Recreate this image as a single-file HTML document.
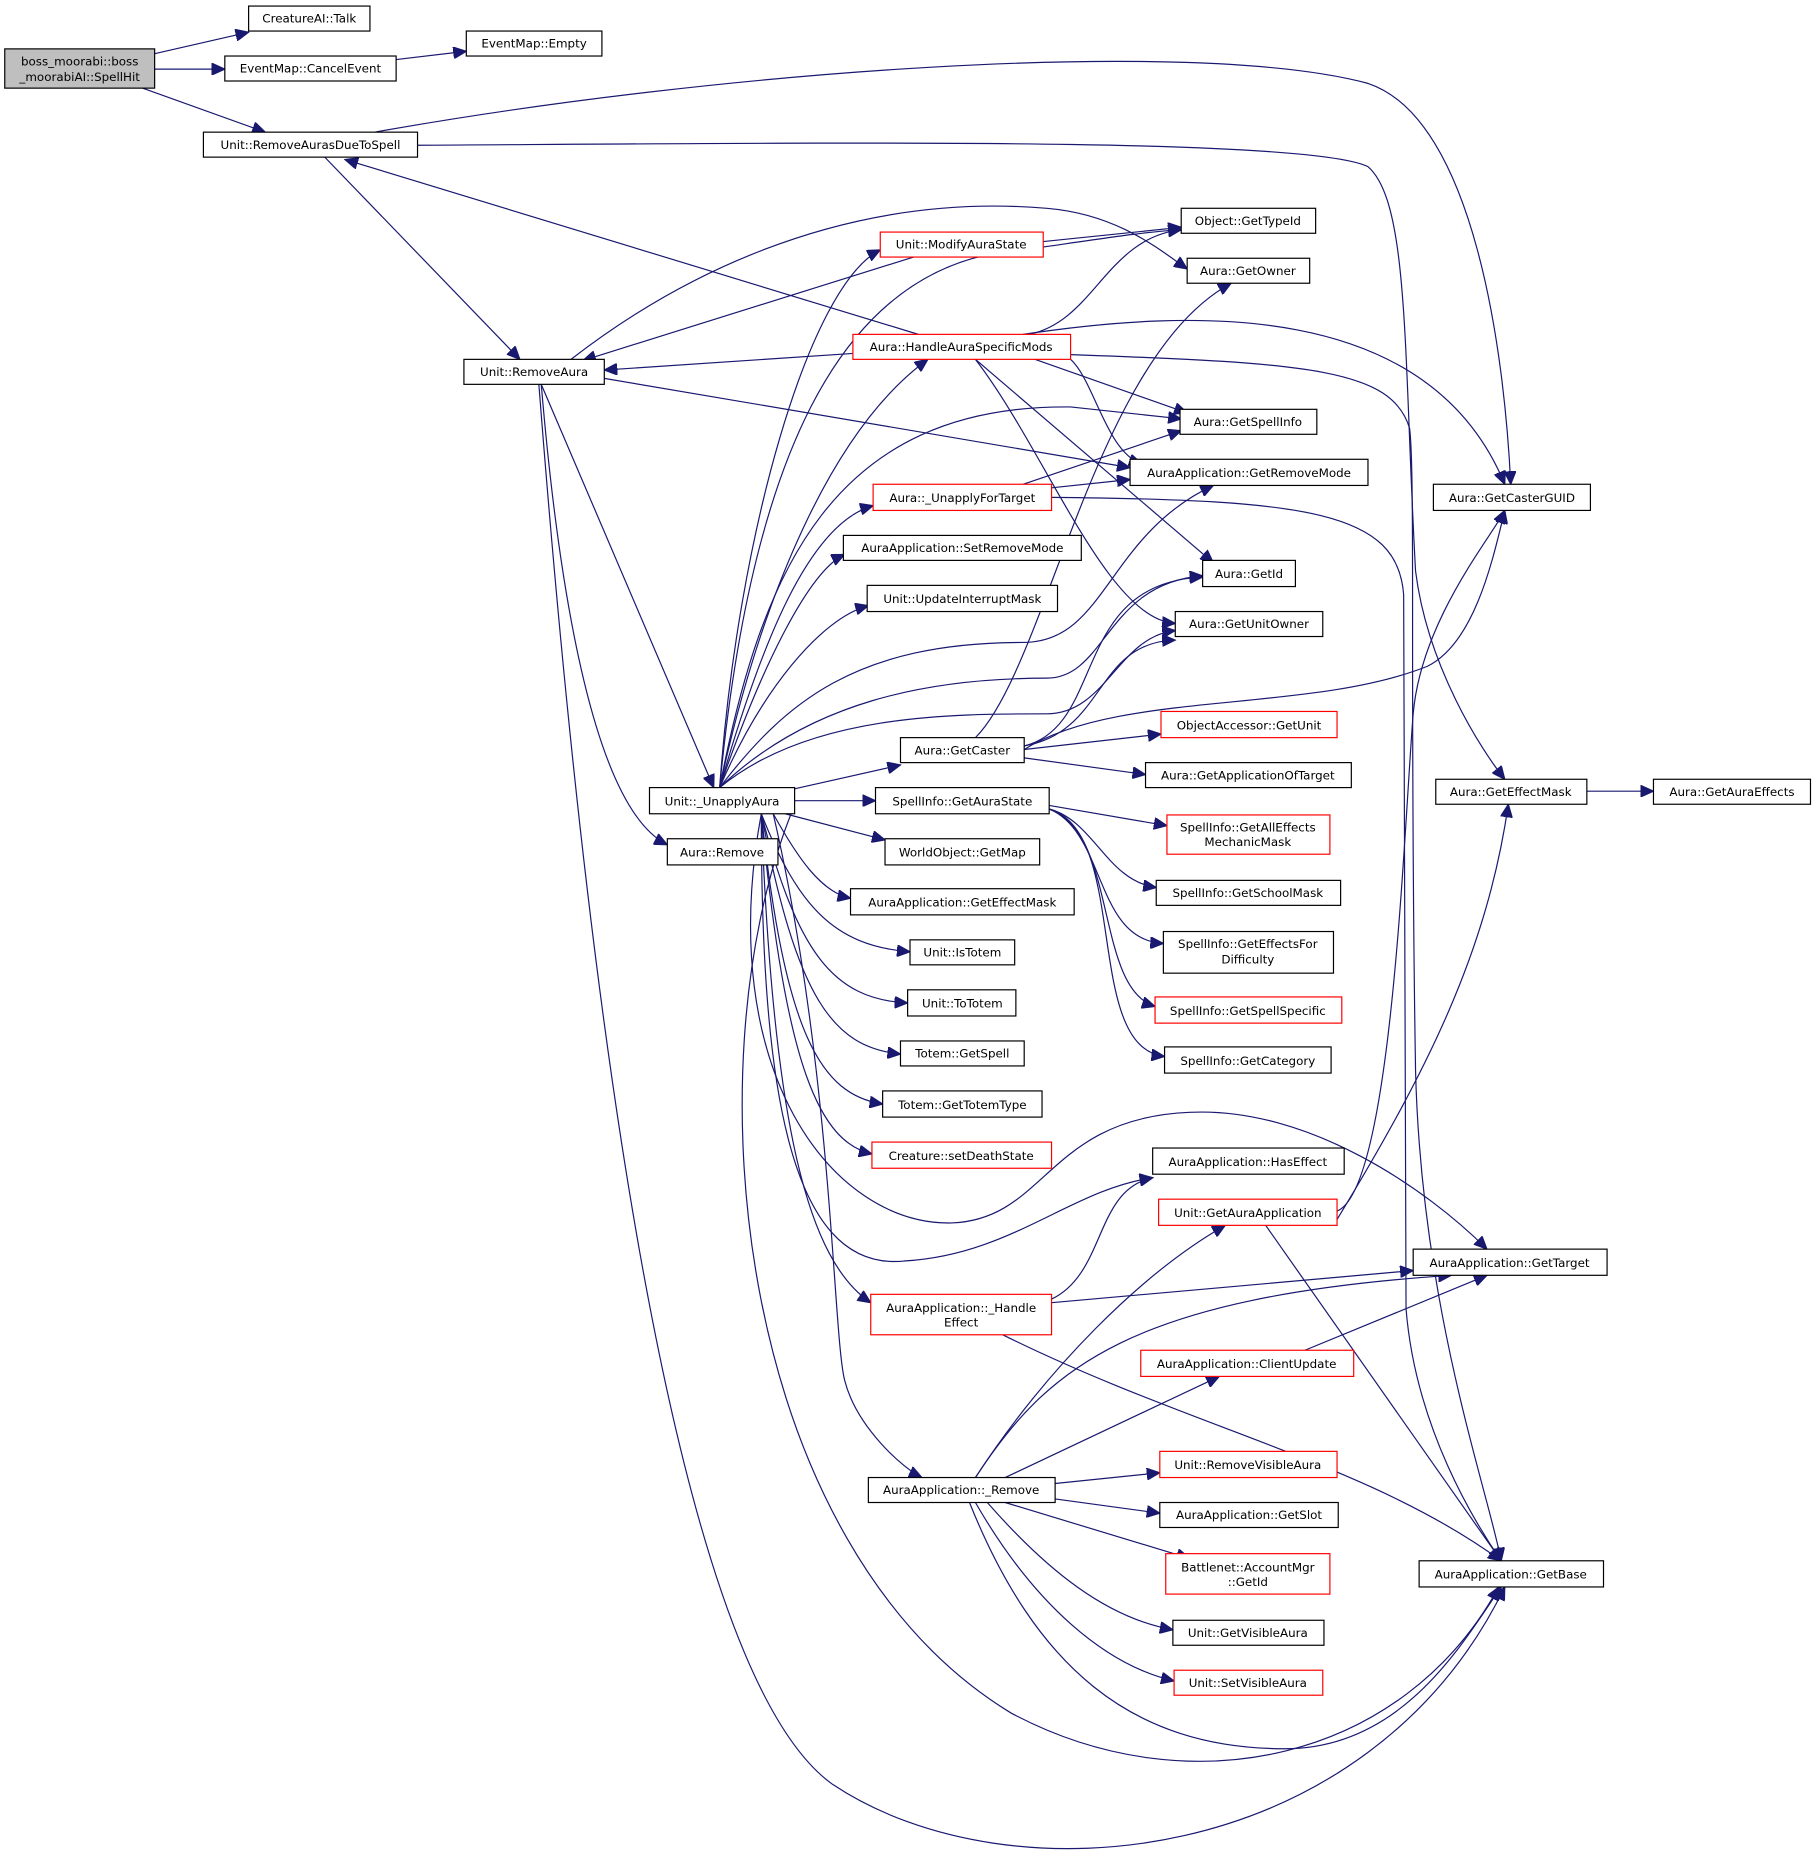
<!DOCTYPE html>
<html><head><meta charset="utf-8"><style>
html,body{margin:0;padding:0;background:#fff;}
svg{display:block}
text{font-family:"DejaVu Sans","Liberation Sans",sans-serif;font-size:10px;fill:#000;text-anchor:middle}
.n{fill:#fff;stroke:#000;stroke-width:1}
.r{fill:#fff;stroke:#f00;stroke-width:1}
.e{fill:none;stroke:#191970;stroke-width:1}
</style></head><body>
<svg width="1820" height="1869" viewBox="0 0 1530 1571" xmlns="http://www.w3.org/2000/svg">
<defs><marker id="a" markerUnits="userSpaceOnUse" markerWidth="12" markerHeight="10" refX="11" refY="5" orient="auto"><path d="M0,0 L11,5 L0,10 z" fill="#191970" stroke="#191970"/></marker></defs>
<g class="e" marker-end="url(#a)">
<path d="M130,45 L209,27"/>
<path d="M130,58 L189,58"/>
<path d="M333,50 L392,43"/>
<path d="M120,74 L223,111"/>
<path d="M315,111 C600,60 1000,30 1150,70 C1240,100 1265,300 1270,407"/>
<path d="M351,122 C700,120 1100,115 1150,140 C1185,170 1180,300 1190,480 C1200,560 1245,630 1265,655"/>
<path d="M273,132 L437,302"/>
<path d="M772,281 L290,134"/>
<path d="M480,302 C560,240 700,160 880,175 C940,180 975,210 998,226"/>
<path d="M768,216 L490,303"/>
<path d="M877,203 L993,191"/>
<path d="M717,297 L508,311"/>
<path d="M865,281 C920,270 930,200 993,193"/>
<path d="M860,281 C1000,260 1200,250 1265,407"/>
<path d="M900,298 C1100,305 1170,310 1185,360 C1190,400 1185,600 1190,900 C1195,1100 1250,1250 1262,1312"/>
<path d="M870,302 L998,347"/>
<path d="M900,302 C920,320 930,380 960,390"/>
<path d="M820,302 L1020,473"/>
<path d="M820,302 C880,380 930,520 988,524"/>
<path d="M455,323 L600,662"/>
<path d="M455,323 C470,500 500,680 561,710"/>
<path d="M508,318 L950,393"/>
<path d="M453,323 C490,800 560,1400 700,1500 C850,1600 1150,1570 1265,1334"/>
<path d="M860,407 L993,362"/>
<path d="M884,410 L950,403"/>
<path d="M884,418 C1100,420 1175,430 1180,500 L1182,1100 C1190,1200 1240,1280 1262,1312"/>
<path d="M605,662 C620,450 680,240 740,210"/>
<path d="M605,662 C630,400 700,220 860,210 C930,200 960,195 993,193"/>
<path d="M605,662 C640,500 700,360 780,302"/>
<path d="M605,662 C640,480 700,340 900,342 L993,352"/>
<path d="M605,662 C640,540 680,440 734,425"/>
<path d="M605,662 C640,560 680,480 710,466"/>
<path d="M605,662 C640,580 690,520 730,509"/>
<path d="M605,662 C660,590 720,540 860,540 C930,540 930,450 1020,408"/>
<path d="M605,662 C680,590 780,570 880,570 C930,570 930,490 1011,484"/>
<path d="M605,662 C680,600 800,600 880,600 C930,600 940,535 988,530"/>
<path d="M668,663 L757,643"/>
<path d="M668,673 L736,673"/>
<path d="M660,684 L744,706"/>
<path d="M650,684 C670,720 690,750 715,755"/>
<path d="M640,684 C670,760 700,795 765,800"/>
<path d="M640,684 C670,800 700,840 763,843"/>
<path d="M640,684 C670,840 700,880 757,886"/>
<path d="M640,684 C660,870 690,920 742,928"/>
<path d="M640,684 C660,900 690,960 733,970"/>
<path d="M640,684 C650,950 680,1060 732,1095"/>
<path d="M650,684 C700,900 700,1120 710,1160 C720,1200 760,1235 775,1242"/>
<path d="M640,684 C640,900 660,1070 760,1060 C850,1055 900,1000 969,990"/>
<path d="M640,684 C600,900 700,1030 800,1028 C880,1025 880,940 1000,935 C1100,930 1200,1000 1250,1050"/>
<path d="M665,684 C580,900 620,1300 850,1440 C1000,1520 1180,1480 1260,1334"/>
<path d="M820,620 C880,560 920,300 1035,238"/>
<path d="M861,627 C930,610 900,490 1011,485"/>
<path d="M861,627 C930,615 920,540 988,538"/>
<path d="M861,630 C940,580 1100,600 1200,560 C1240,540 1255,470 1265,429"/>
<path d="M861,630 L976,617"/>
<path d="M861,637 L963,651"/>
<path d="M882,677 L981,694"/>
<path d="M882,680 C920,690 930,740 972,746"/>
<path d="M882,680 C930,700 920,790 978,793"/>
<path d="M882,680 C940,700 920,830 971,846"/>
<path d="M882,680 C950,700 910,880 979,888"/>
<path d="M1334,665 L1390,665"/>
<path d="M1124,1018 C1170,1000 1180,700 1188,600 C1195,520 1255,450 1265,429"/>
<path d="M1124,1025 C1200,900 1250,800 1268,676"/>
<path d="M1064,1030 L1262,1312"/>
<path d="M884,1092 C930,1070 920,1000 969,990"/>
<path d="M884,1095 L1188,1068"/>
<path d="M843,1122 C1000,1200 1150,1230 1262,1312"/>
<path d="M1097,1135 L1250,1072"/>
<path d="M820,1242 C880,1150 960,1070 1030,1030"/>
<path d="M820,1242 C880,1150 950,1090 1220,1072"/>
<path d="M845,1242 L1025,1157"/>
<path d="M887,1247 L975,1238"/>
<path d="M887,1260 L975,1272"/>
<path d="M845,1263 L1000,1310"/>
<path d="M830,1263 C880,1320 930,1360 986,1370"/>
<path d="M820,1263 C870,1350 930,1400 987,1413"/>
<path d="M815,1263 C870,1400 950,1470 1080,1470 C1180,1470 1230,1380 1262,1334"/>
</g>
<rect x="4" y="41" width="126" height="33" fill="#bfbfbf" stroke="#000"/>
<text x="67" y="55">boss_moorabi::boss</text><text x="67" y="68">_moorabiAI::SpellHit</text>
<g>
<rect class="n" x="209" y="5" width="102" height="21"/><text x="260" y="19">CreatureAI::Talk</text>
<rect class="n" x="189" y="47" width="144" height="21"/><text x="261" y="61">EventMap::CancelEvent</text>
<rect class="n" x="392" y="26" width="114" height="21"/><text x="449" y="40">EventMap::Empty</text>
<rect class="n" x="171" y="111" width="180" height="21"/><text x="261" y="125">Unit::RemoveAurasDueToSpell</text>
<rect class="r" x="740" y="195" width="137" height="21"/><text x="808" y="209">Unit::ModifyAuraState</text>
<rect class="n" x="993" y="175" width="113" height="21"/><text x="1049" y="189">Object::GetTypeId</text>
<rect class="n" x="998" y="217" width="103" height="21"/><text x="1049" y="231">Aura::GetOwner</text>
<rect class="r" x="717" y="281" width="183" height="21"/><text x="808" y="295">Aura::HandleAuraSpecificMods</text>
<rect class="n" x="390" y="302" width="118" height="21"/><text x="449" y="316">Unit::RemoveAura</text>
<rect class="n" x="992" y="344" width="115" height="21"/><text x="1049" y="358">Aura::GetSpellInfo</text>
<rect class="r" x="734" y="407" width="150" height="22"/><text x="809" y="422">Aura::_UnapplyForTarget</text>
<rect class="n" x="950" y="386" width="200" height="22"/><text x="1050" y="401">AuraApplication::GetRemoveMode</text>
<rect class="n" x="1205" y="407" width="132" height="22"/><text x="1271" y="422">Aura::GetCasterGUID</text>
<rect class="n" x="709" y="450" width="200" height="21"/><text x="809" y="464">AuraApplication::SetRemoveMode</text>
<rect class="n" x="729" y="492" width="160" height="22"/><text x="809" y="507">Unit::UpdateInterruptMask</text>
<rect class="n" x="1011" y="471" width="78" height="22"/><text x="1050" y="486">Aura::GetId</text>
<rect class="n" x="988" y="514" width="124" height="21"/><text x="1050" y="528">Aura::GetUnitOwner</text>
<rect class="r" x="976" y="598" width="148" height="22"/><text x="1050" y="613">ObjectAccessor::GetUnit</text>
<rect class="n" x="757" y="620" width="104" height="21"/><text x="809" y="634">Aura::GetCaster</text>
<rect class="n" x="963" y="641" width="173" height="21"/><text x="1049" y="655">Aura::GetApplicationOfTarget</text>
<rect class="n" x="546" y="662" width="122" height="22"/><text x="607" y="677">Unit::_UnapplyAura</text>
<rect class="n" x="736" y="662" width="146" height="22"/><text x="809" y="677">SpellInfo::GetAuraState</text>
<rect class="n" x="1207" y="655" width="127" height="21"/><text x="1270" y="669">Aura::GetEffectMask</text>
<rect class="n" x="1390" y="655" width="132" height="21"/><text x="1456" y="669">Aura::GetAuraEffects</text>
<rect class="r" x="981" y="685" width="137" height="33"/><text x="1049" y="699">SpellInfo::GetAllEffects</text><text x="1049" y="711">MechanicMask</text>
<rect class="n" x="561" y="705" width="93" height="22"/><text x="607" y="720">Aura::Remove</text>
<rect class="n" x="744" y="705" width="130" height="22"/><text x="809" y="720">WorldObject::GetMap</text>
<rect class="n" x="715" y="747" width="188" height="22"/><text x="809" y="762">AuraApplication::GetEffectMask</text>
<rect class="n" x="972" y="740" width="155" height="21"/><text x="1049" y="754">SpellInfo::GetSchoolMask</text>
<rect class="n" x="765" y="790" width="88" height="21"/><text x="809" y="804">Unit::IsTotem</text>
<rect class="n" x="978" y="783" width="143" height="35"/><text x="1049" y="797">SpellInfo::GetEffectsFor</text><text x="1049" y="810">Difficulty</text>
<rect class="n" x="763" y="832" width="91" height="22"/><text x="809" y="847">Unit::ToTotem</text>
<rect class="r" x="971" y="838" width="157" height="22"/><text x="1049" y="853">SpellInfo::GetSpellSpecific</text>
<rect class="n" x="757" y="875" width="104" height="21"/><text x="809" y="889">Totem::GetSpell</text>
<rect class="n" x="979" y="880" width="140" height="22"/><text x="1049" y="895">SpellInfo::GetCategory</text>
<rect class="n" x="742" y="917" width="134" height="22"/><text x="809" y="932">Totem::GetTotemType</text>
<rect class="r" x="733" y="960" width="151" height="22"/><text x="808" y="975">Creature::setDeathState</text>
<rect class="n" x="969" y="965" width="161" height="22"/><text x="1049" y="980">AuraApplication::HasEffect</text>
<rect class="r" x="974" y="1008" width="150" height="22"/><text x="1049" y="1023">Unit::GetAuraApplication</text>
<rect class="n" x="1188" y="1050" width="163" height="22"/><text x="1269" y="1065">AuraApplication::GetTarget</text>
<rect class="r" x="732" y="1088" width="152" height="34"/><text x="808" y="1103">AuraApplication::_Handle</text><text x="808" y="1115">Effect</text>
<rect class="r" x="959" y="1135" width="179" height="22"/><text x="1048" y="1150">AuraApplication::ClientUpdate</text>
<rect class="r" x="975" y="1220" width="149" height="22"/><text x="1049" y="1235">Unit::RemoveVisibleAura</text>
<rect class="n" x="730" y="1242" width="157" height="21"/><text x="808" y="1256">AuraApplication::_Remove</text>
<rect class="n" x="975" y="1263" width="150" height="21"/><text x="1050" y="1277">AuraApplication::GetSlot</text>
<rect class="r" x="980" y="1306" width="138" height="34"/><text x="1049" y="1321">Battlenet::AccountMgr</text><text x="1049" y="1333">::GetId</text>
<rect class="n" x="1193" y="1312" width="155" height="22"/><text x="1270" y="1327">AuraApplication::GetBase</text>
<rect class="n" x="986" y="1362" width="127" height="21"/><text x="1049" y="1376">Unit::GetVisibleAura</text>
<rect class="r" x="987" y="1404" width="125" height="21"/><text x="1049" y="1418">Unit::SetVisibleAura</text>
</g>
</svg>
</body></html>
